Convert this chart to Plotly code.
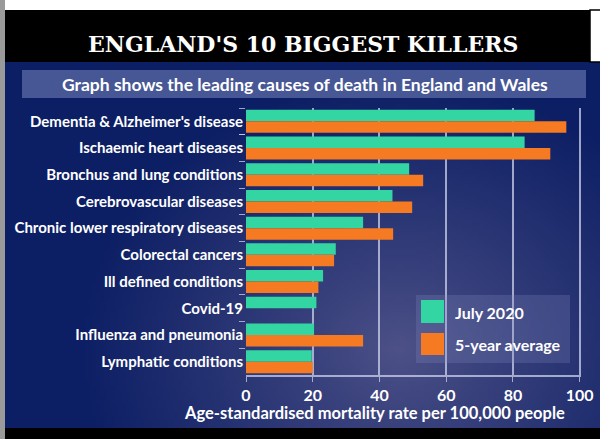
import base64
import struct
import zlib

import numpy as np
import plotly.graph_objects as go

# Data
causes = ["Dementia & Alzheimer's disease", "Ischaemic heart diseases",
          "Bronchus and lung conditions", "Cerebrovascular diseases",
          "Chronic lower respiratory diseases", "Colorectal cancers",
          "Ill defined conditions", "Covid-19", "Influenza and pneumonia",
          "Lymphatic conditions"]
july_2020 = [86.5, 83.5, 48.9, 43.9, 35.1, 26.9, 23.1, 21.1, 20.4, 19.7]
five_year_avg = [96.0, 91.2, 53.1, 49.8, 44.1, 26.4, 21.7, None, 35.1, 20.0]
x_ticks = [0, 20, 40, 60, 80, 100]

GREEN = "#33d6a2"
ORANGE = "#f57a22"
FONT = "Lato, Roboto, sans-serif"

W, H = 600, 439
L, R, T, B = 246, 19, 108, 64
PW, PH = W - L - R, H - T - B


def px(x):
    return (x - L) / PW


def py(y):
    return (H - B - y) / PH


def gradient_png(w, h):
    # radial glow for the blue panel
    yy, xx = np.mgrid[0:h, 0:w]
    d = np.sqrt(((xx - 0.66 * w) / (0.55 * w)) ** 2 + ((yy - 0.78 * h) / (0.75 * h)) ** 2)
    t = np.clip(d, 0, 1) ** 0.9
    inner = np.array([78, 82, 136])
    outer = np.array([12, 30, 100])
    img = inner[None, None, :] * (1 - t[..., None]) + outer[None, None, :] * t[..., None]
    img = img.astype(np.uint8)
    raw = b"".join(b"\x00" + row.tobytes() for row in img)

    def chunk(tag, data):
        c = struct.pack(">I", len(data)) + tag + data
        return c + struct.pack(">I", zlib.crc32(tag + data) & 0xffffffff)

    png = b"\x89PNG\r\n\x1a\n" + chunk(b"IHDR", struct.pack(">IIBBBBB", w, h, 8, 2, 0, 0, 0))
    png += chunk(b"IDAT", zlib.compress(raw, 9)) + chunk(b"IEND", b"")
    return "data:image/png;base64," + base64.b64encode(png).decode()


fig = go.Figure()
fig.add_trace(go.Bar(y=causes, x=july_2020, orientation="h", name="July 2020",
                     marker=dict(color=GREEN, line=dict(width=0))))
fig.add_trace(go.Bar(y=causes, x=five_year_avg, orientation="h", name="5-year average",
                     marker=dict(color=ORANGE, line=dict(width=0))))

shapes = [
    # white strip on top, grey strip on left
    dict(type="rect", xref="paper", yref="paper", x0=px(0), x1=px(600), y0=py(0), y1=py(10),
         fillcolor="white", line_width=0, layer="below"),
    dict(type="rect", xref="paper", yref="paper", x0=px(590), x1=px(601), y0=py(10), y1=py(62),
         fillcolor="white", line=dict(color="black", width=1.5), layer="below"),
    dict(type="rect", xref="paper", yref="paper", x0=px(0), x1=px(5), y0=py(0), y1=py(439),
         fillcolor="#9a9a9a", line_width=0, layer="below"),
    # subtitle band
    dict(type="rect", xref="paper", yref="paper", x0=px(22), x1=px(586), y0=py(70), y1=py(98),
         fillcolor="rgba(120,135,190,0.55)", line_width=0, layer="below"),
    # legend box
    dict(type="rect", xref="paper", yref="paper", x0=px(416), x1=px(570), y0=py(295), y1=py(363),
         fillcolor="rgba(130,140,190,0.25)", line_width=0, layer="above"),
    dict(type="rect", xref="paper", yref="paper", x0=px(421), x1=px(444), y0=py(300), y1=py(323),
         fillcolor=GREEN, line_width=0, layer="above"),
    dict(type="rect", xref="paper", yref="paper", x0=px(421), x1=px(444), y0=py(333), y1=py(355),
         fillcolor=ORANGE, line_width=0, layer="above"),
]

annotations = [
    dict(text="ENGLAND'S 10 BIGGEST KILLERS", xref="paper", yref="paper",
         x=px(303), y=py(44), xanchor="center", yanchor="middle", showarrow=False,
         font=dict(family="DejaVu Serif, serif", size=22, color="white", weight="bold")),
    dict(text="Graph shows the leading causes of death in England and Wales",
         xref="paper", yref="paper", x=px(305), y=py(84), xanchor="center", yanchor="middle",
         showarrow=False, font=dict(family=FONT, size=17.5, color="white", weight="bold")),
    dict(text="July 2020", xref="paper", yref="paper", x=px(453), y=py(312),
         xanchor="left", yanchor="middle", showarrow=False,
         font=dict(family=FONT, size=16, color="white", weight="bold")),
    dict(text="5-year average", xref="paper", yref="paper", x=px(453), y=py(344),
         xanchor="left", yanchor="middle", showarrow=False,
         font=dict(family=FONT, size=16, color="white", weight="bold")),
    dict(text="Age-standardised mortality rate per 100,000 people", xref="paper",
         yref="paper", x=px(374), y=py(413), xanchor="center", yanchor="middle",
         showarrow=False, font=dict(family=FONT, size=16.5, color="white", weight="bold")),
]

grid_col = "rgba(205,210,235,0.75)"
fig.update_layout(
    width=W, height=H,
    margin=dict(l=L, r=R, t=T, b=B),
    paper_bgcolor="black",
    plot_bgcolor="rgba(0,0,0,0)",
    barmode="group", bargap=0.14, bargroupgap=0.0,
    showlegend=False,
    shapes=shapes,
    annotations=annotations,
    images=[dict(source=gradient_png(160, 100), xref="paper", yref="paper",
                 x=px(5), y=py(62), sizex=px(600) - px(5), sizey=py(62) - py(428),
                 xanchor="left", yanchor="top", sizing="stretch", layer="below")],
    xaxis=dict(range=[0, 100.4], tickvals=x_ticks, showgrid=True, gridcolor=grid_col,
               gridwidth=1.5, zeroline=False, showline=True, linecolor=grid_col,
               linewidth=1.5, ticks="outside", ticklen=5, tickcolor=grid_col,
               automargin=False,
               tickfont=dict(family=FONT, size=16, color="white", weight="bold")),
    yaxis=dict(categoryorder="array", categoryarray=causes, autorange="reversed",
               showgrid=False, zeroline=False, ticks="outside", tickson="boundaries",
               ticklen=6, tickcolor=grid_col, ticklabelstandoff=2, automargin=False,
               tickfont=dict(family=FONT, size=15, color="white", weight="bold")),
)

# page body has a default margin; drop it so the figure sits at the window corner
fig.write_html("out.html", config={"displayModeBar": False},
               post_script="document.body.style.margin='0';")
